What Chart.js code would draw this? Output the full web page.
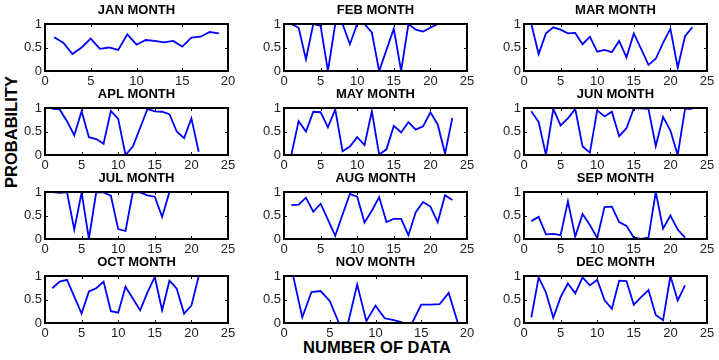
<!DOCTYPE html>
<html>
<head>
<meta charset="utf-8">
<script src="https://cdn.jsdelivr.net/npm/chart.js@4.4.0/dist/chart.umd.min.js"></script>
<style>
  html, body { margin: 0; padding: 0; background: #fff; }
  #wrap { position: relative; width: 719px; height: 360px; overflow: hidden; font-family: "Liberation Sans", Arial, sans-serif; }
  #wrap canvas { position: absolute; }
  .axlabel { position: absolute; font-weight: bold; font-size: 16.5px; color: #000; white-space: nowrap; line-height: 1; }
</style>
</head>
<body>
<div id="wrap">
  <div class="axlabel" id="ylab">PROBABILITY</div>
  <div class="axlabel" id="xlab">NUMBER OF DATA</div>
</div>
<script>
// titles of the subplots, row by row
const monthTitles = ['JAN MONTH', 'FEB MONTH', 'MAR MONTH',
                     'APL MONTH', 'MAY MONTH', 'JUN MONTH',
                     'JUL MONTH', 'AUG MONTH', 'SEP MONTH',
                     'OCT MONTH', 'NOV MONTH', 'DEC MONTH'];

// probability values, sample number starts at 1
const janValues = [0.72, 0.60, 0.36, 0.50, 0.69, 0.47, 0.50, 0.45, 0.78, 0.56, 0.66, 0.64, 0.61, 0.64, 0.52, 0.71, 0.73, 0.83, 0.80];
const febValues = [1.0, 0.92, 0.25, 1.0, 0.96, 0.0, 1.0, 1.0, 0.57, 1.0, 1.0, 0.82, 0.0, 0.45, 0.90, 0.0, 1.0, 0.88, 0.84, 0.92, 1.0];
const marValues = [1.0, 0.36, 0.80, 0.93, 0.88, 0.80, 0.81, 0.57, 0.73, 0.41, 0.45, 0.40, 0.64, 0.29, 0.80, 0.47, 0.13, 0.26, 0.60, 0.90, 0.07, 0.74, 0.93];
const aplValues = [0.98, 0.97, 0.72, 0.42, 0.93, 0.38, 0.34, 0.24, 0.94, 0.77, 0.0, 0.18, 0.58, 0.98, 0.93, 0.92, 0.87, 0.50, 0.36, 0.78, 0.07];
const mayValues = [0.0, 0.72, 0.50, 0.92, 0.91, 0.59, 0.97, 0.08, 0.18, 0.38, 0.21, 0.93, 0.01, 0.12, 0.62, 0.48, 0.70, 0.54, 0.61, 0.91, 0.65, 0.03, 0.79];
const junValues = [0.93, 0.70, 0.0, 0.98, 0.63, 0.78, 0.98, 0.18, 0.05, 0.95, 0.82, 0.92, 0.40, 0.57, 0.99, 0.99, 0.98, 0.19, 0.81, 0.52, 0.0, 0.98, 0.98];
const julValues = [1.0, 0.98, 1.0, 0.20, 0.99, 0.0, 1.0, 0.99, 0.92, 0.21, 0.17, 1.0, 0.99, 0.93, 0.90, 0.47, 1.0, 1.0, 1.0, 1.0, 1.0];
const augValues = [0.72, 0.73, 0.88, 0.58, 0.75, 0.41, 0.07, 0.52, 0.96, 0.90, 0.35, 0.60, 0.89, 0.36, 0.43, 0.43, 0.08, 0.57, 0.79, 0.69, 0.36, 0.93, 0.83];
const sepValues = [0.38, 0.47, 0.10, 0.11, 0.08, 0.80, 0.05, 0.53, 0.30, 0.02, 0.68, 0.69, 0.36, 0.28, 0.03, 0.0, 0.03, 1.0, 0.22, 0.50, 0.20, 0.03];
const octValues = [0.74, 0.88, 0.92, 0.56, 0.20, 0.67, 0.74, 0.88, 0.25, 0.22, 0.77, 0.52, 0.27, 0.65, 0.98, 0.27, 0.90, 0.73, 0.20, 0.37, 1.0];
const novValues = [1.0, 0.12, 0.66, 0.68, 0.47, 0.0, 0.0, 0.82, 0.04, 0.37, 0.10, 0.06, 0.01, 0.0, 0.39, 0.39, 0.40, 0.64, 0.0, 0.0];
const decValues = [0.12, 0.97, 0.65, 0.11, 0.55, 0.84, 0.63, 0.97, 0.80, 0.92, 0.49, 0.30, 0.90, 0.89, 0.39, 0.55, 0.70, 0.17, 0.06, 1.0, 0.48, 0.80];

const monthValues = [janValues, febValues, marValues, aplValues, mayValues, junValues,
                     julValues, augValues, sepValues, octValues, novValues, decValues];

// x axis limit of each subplot and the tick values
const xMaxValues = [20, 25, 25, 25, 25, 25, 25, 25, 25, 25, 20, 25];
const xTickStep = 5;
const yTickValues = [0, 0.5, 1];
const yTickLabels = ['0', '0.5', '1'];

// plot box placement (pixels)
const colLefts = [45, 284, 524];
const rowTops = [24, 108, 192, 276];
const plotW = 183, plotH = 47;
const padL = 40, padT = 24, padR = 12, padB = 20;

const fontFam = '"Liberation Sans", Arial, sans-serif';
const wrap = document.getElementById('wrap');

// MATLAB style box with inward tick marks
const boxPlugin = {
    id: 'boxPlugin',
    afterDatasetsDraw(chart) {
        const ctx = chart.ctx;
        const a = chart.chartArea;
        const xs = chart.scales.x, ys = chart.scales.y;
        ctx.save();
        ctx.strokeStyle = '#000';
        ctx.lineWidth = 1;
        ctx.beginPath();
        xs.ticks.forEach(t => {
            const px = Math.round(xs.getPixelForValue(t.value)) + 0.5;
            ctx.moveTo(px, a.bottom); ctx.lineTo(px, a.bottom - 3);
            ctx.moveTo(px, a.top); ctx.lineTo(px, a.top + 3);
        });
        ys.ticks.forEach(t => {
            const py = Math.round(ys.getPixelForValue(t.value)) + 0.5;
            ctx.moveTo(a.left, py); ctx.lineTo(a.left + 3, py);
            ctx.moveTo(a.right, py); ctx.lineTo(a.right - 3, py);
        });
        ctx.stroke();
        ctx.lineWidth = 2;
        ctx.strokeRect(a.left, a.top, a.right - a.left, a.bottom - a.top);
        ctx.restore();
    }
};

monthValues.forEach((vals, i) => {
    const r = Math.floor(i / 3), c = i % 3;
    const cv = document.createElement('canvas');
    cv.width = padL + plotW + padR;
    cv.height = padT + plotH + padB;
    cv.style.left = (colLefts[c] - padL) + 'px';
    cv.style.top = (rowTops[r] - padT) + 'px';
    wrap.appendChild(cv);

    const xMax = xMaxValues[i];
    new Chart(cv.getContext('2d'), {
        type: 'line',
        data: {
            datasets: [{
                data: vals.map((v, k) => ({ x: k + 1, y: v })),
                borderColor: '#0000ff',
                borderWidth: 1.8,
                pointRadius: 0,
                tension: 0,
                fill: false
            }]
        },
        options: {
            responsive: false,
            animation: false,
            events: [],
            layout: { padding: { left: 0, right: padR, top: 0, bottom: 0 } },
            plugins: {
                legend: { display: false },
                tooltip: { enabled: false },
                title: {
                    display: true,
                    text: monthTitles[i],
                    fullSize: false,
                    color: '#000',
                    font: { family: fontFam, size: 13, weight: 'bold', lineHeight: 1 },
                    padding: { top: 4, bottom: 7 }
                }
            },
            scales: {
                x: {
                    type: 'linear',
                    min: 0,
                    max: xMax,
                    grid: { display: false, drawTicks: false },
                    border: { display: false },
                    afterBuildTicks: s => {
                        const t = [];
                        for (let v = 0; v <= xMax; v += xTickStep) t.push({ value: v });
                        s.ticks = t;
                    },
                    afterFit: s => { s.height = padB; },
                    ticks: {
                        color: '#222',
                        padding: 3,
                        maxRotation: 0,
                        callback: v => String(v),
                        font: { family: fontFam, size: 13 }
                    }
                },
                y: {
                    min: 0,
                    max: 1,
                    grid: { display: false, drawTicks: false },
                    border: { display: false },
                    afterBuildTicks: s => { s.ticks = yTickValues.map(v => ({ value: v })); },
                    afterFit: s => { s.width = padL; },
                    ticks: {
                        color: '#222',
                        padding: 3,
                        callback: (v, idx) => yTickLabels[idx],
                        font: { family: fontFam, size: 13 }
                    }
                }
            }
        },
        plugins: [boxPlugin]
    });
});

// shared axis labels
const ylab = document.getElementById('ylab');
ylab.style.left = '10.5px';
ylab.style.top = '131.5px';
ylab.style.transform = 'translate(-50%, -50%) rotate(-90deg)';
const xlab = document.getElementById('xlab');
xlab.style.left = '377px';
xlab.style.top = '347px';
xlab.style.transform = 'translate(-50%, -50%)';
</script>
</body>
</html>
